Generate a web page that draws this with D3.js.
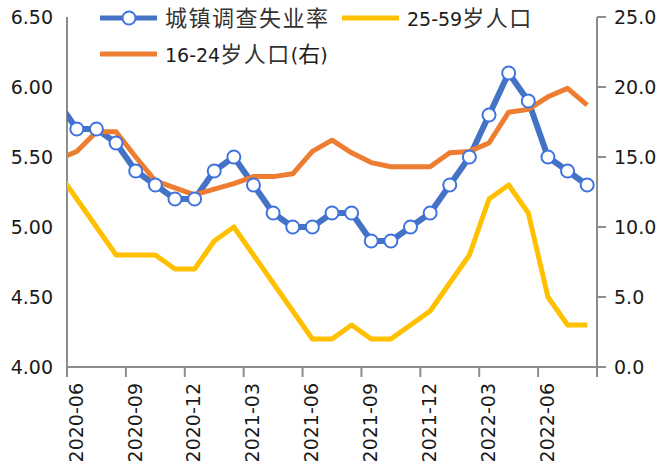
<!DOCTYPE html>
<html>
<head>
<meta charset="utf-8">
<script src="https://cdn.jsdelivr.net/npm/d3@7"></script>
<style>
  body { margin: 0; background: #fff; }
  text { font-family: "DejaVu Sans", sans-serif; fill: #1a1a1a; }
  .cjk { font-family: "Noto Sans CJK SC", sans-serif; }
</style>
</head>
<body>
<svg width="659" height="469"></svg>
<script>
// months: 2020-05 is only partly visible (clipped at the left axis)
var months = ['2020-05','2020-06','2020-07','2020-08','2020-09','2020-10','2020-11','2020-12',
  '2021-01','2021-02','2021-03','2021-04','2021-05','2021-06','2021-07','2021-08','2021-09','2021-10',
  '2021-11','2021-12','2022-01','2022-02','2022-03','2022-04','2022-05','2022-06','2022-07','2022-08'];
var urbanRate = [5.9,5.7,5.7,5.6,5.4,5.3,5.2,5.2,5.4,5.5,5.3,5.1,5.0,5.0,5.1,5.1,4.9,4.9,5.0,5.1,5.3,5.5,5.8,6.1,5.9,5.5,5.4,5.3];
var age25to59 = [5.4,5.2,5.0,4.8,4.8,4.8,4.7,4.7,4.9,5.0,4.8,4.6,4.4,4.2,4.2,4.3,4.2,4.2,4.3,4.4,4.6,4.8,5.2,5.3,5.1,4.5,4.3,4.3];
var age16to24 = [14.8,15.4,16.8,16.8,15.0,13.3,12.8,12.3,12.7,13.1,13.6,13.6,13.8,15.4,16.2,15.3,14.6,14.3,14.3,14.3,15.3,15.4,16.0,18.2,18.4,19.3,19.9,18.7];
var tickMonths = ['2020-06','2020-09','2020-12','2021-03','2021-06','2021-09','2021-12','2022-03','2022-06'];
var leftTicks = [4.0,4.5,5.0,5.5,6.0,6.5];
var rightTicks = [0,5,10,15,20,25];

var svg = d3.select('svg');
var pLeft = 67, pRight = 597, pTop = 17, pBottom = 367;
var first = 1; // index of 2020-06 = start of axis

var x = d3.scaleLinear().domain([0, 27]).range([pLeft, pRight]);
var yL = d3.scaleLinear().domain([4, 6.5]).range([pBottom, pTop]);
var yR = d3.scaleLinear().domain([0, 25]).range([pBottom, pTop]);
function px(i) { return x(i - first + 0.5); }

svg.append('clipPath').attr('id', 'plot')
  .append('rect').attr('x', pLeft).attr('y', 0).attr('width', pRight - pLeft).attr('height', pBottom + 5);

// axes
var axisColor = '#8c8c8c';
svg.append('line').attr('x1', pLeft).attr('x2', pLeft).attr('y1', pTop).attr('y2', pBottom)
  .attr('stroke', axisColor).attr('stroke-width', 2);
svg.append('line').attr('x1', pRight).attr('x2', pRight).attr('y1', pTop).attr('y2', pBottom + 10)
  .attr('stroke', axisColor).attr('stroke-width', 2);
svg.append('line').attr('x1', pLeft).attr('x2', pRight).attr('y1', pBottom).attr('y2', pBottom)
  .attr('stroke', axisColor).attr('stroke-width', 2);

// bottom ticks every 3 months
svg.selectAll('line.xt').data(d3.range(0, 28, 3)).enter().append('line')
  .attr('class', 'xt')
  .attr('x1', function(d) { return x(d); }).attr('x2', function(d) { return x(d); })
  .attr('y1', pBottom).attr('y2', pBottom + 10)
  .attr('stroke', axisColor).attr('stroke-width', 2);

svg.selectAll('text.xl').data(tickMonths).enter().append('text')
  .attr('class', 'xl')
  .attr('transform', function(d) {
    return 'translate(' + [px(months.indexOf(d)) - 1, 383] + ')rotate(-90)';
  })
  .attr('text-anchor', 'end').attr('dy', '0.36em')
  .style('font-size', '19px')
  .text(function(d) { return d; });

svg.selectAll('text.yl').data(leftTicks).enter().append('text')
  .attr('class', 'yl')
  .attr('x', 53).attr('y', function(d) { return yL(d); })
  .attr('dy', '0.36em').attr('text-anchor', 'end')
  .style('font-size', '19px')
  .text(function(d) { return d.toFixed(2); });

svg.selectAll('line.yrt').data(rightTicks).enter().append('line')
  .attr('class', 'yrt')
  .attr('x1', pRight).attr('x2', pRight + 9)
  .attr('y1', function(d) { return yR(d); }).attr('y2', function(d) { return yR(d); })
  .attr('stroke', axisColor).attr('stroke-width', 2);

svg.selectAll('text.yr').data(rightTicks).enter().append('text')
  .attr('class', 'yr')
  .attr('x', 614).attr('y', function(d) { return yR(d); })
  .attr('dy', '0.36em')
  .style('font-size', '19px')
  .text(function(d) { return d.toFixed(1); });

// lines
var plot = svg.append('g').attr('clip-path', 'url(#plot)');
function lineFor(scale) {
  return d3.line().x(function(d, i) { return px(i); }).y(function(d) { return scale(d); });
}
plot.append('path').datum(age25to59).attr('d', lineFor(yL))
  .attr('fill', 'none').attr('stroke', '#FFC000').attr('stroke-width', 5).attr('stroke-linejoin', 'round');
plot.append('path').datum(urbanRate).attr('d', lineFor(yL))
  .attr('fill', 'none').attr('stroke', '#4472C4').attr('stroke-width', 6).attr('stroke-linejoin', 'round');
plot.append('path').datum(age16to24).attr('d', lineFor(yR))
  .attr('fill', 'none').attr('stroke', '#ED7D31').attr('stroke-width', 5).attr('stroke-linejoin', 'round');

plot.selectAll('circle').data(urbanRate.slice(first)).enter().append('circle')
  .attr('cx', function(d, i) { return px(i + first); })
  .attr('cy', function(d) { return yL(d); })
  .attr('r', 6.5)
  .attr('fill', '#fff').attr('stroke', '#3f74e0').attr('stroke-width', 2);

// legend
var legend = [
  { x: 100, y: 18, color: '#4472C4', marker: true, num: '', cjk: '城镇调查失业率', tail: '' },
  { x: 342, y: 18, color: '#FFC000', marker: false, num: '25-59', cjk: '岁人口', tail: '' },
  { x: 100, y: 54, color: '#ED7D31', marker: false, num: '16-24', cjk: '岁人口', tail: '(右)' }
];
var lg = svg.selectAll('g.lg').data(legend).enter().append('g').attr('class', 'lg')
  .attr('transform', function(d) { return 'translate(' + [d.x, d.y] + ')'; });
lg.append('line').attr('x1', 0).attr('x2', 57).attr('y1', 0).attr('y2', 0)
  .attr('stroke', function(d) { return d.color; }).attr('stroke-width', 5);
lg.filter(function(d) { return d.marker; }).append('circle')
  .attr('cx', 29).attr('cy', 0).attr('r', 6.5)
  .attr('fill', '#fff').attr('stroke', '#3f74e0').attr('stroke-width', 2);
var lt = lg.append('text').attr('x', 65).attr('y', 8).style('font-size', '19px');
lt.append('tspan').text(function(d) { return d.num; });
lt.append('tspan').attr('class', 'cjk').style('font-size', '22px').style('letter-spacing', '1.5px')
  .style('fill', '#333')
  .text(function(d) { return d.cjk; });
lt.append('tspan').text(function(d) { return d.tail ? '(' : ''; });
lt.append('tspan').attr('class', 'cjk').style('font-size', '22px')
  .text(function(d) { return d.tail ? '右' : ''; });
lt.append('tspan').text(function(d) { return d.tail ? ')' : ''; });
</script>
</body>
</html>
